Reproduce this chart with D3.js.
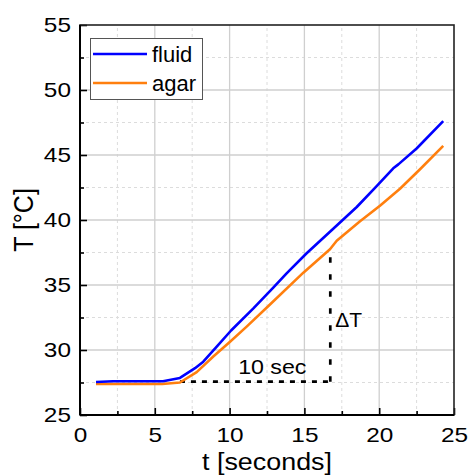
<!DOCTYPE html>
<html>
<head>
<meta charset="utf-8">
<script src="https://cdn.jsdelivr.net/npm/d3@7/dist/d3.min.js"></script>
<style>
  html, body { margin: 0; padding: 0; background: #fff; }
  svg { display: block; font-family: "Liberation Sans", Arial, sans-serif; }
</style>
</head>
<body>
<svg id="chart" width="470" height="475"></svg>
<script>
// Temperature readings (°C) over time (s)
const fluidT = [1.07, 2.2, 5.55, 6.68, 7.69, 8.24, 9.14, 10.1, 11.59, 12.92, 13.81, 15.15, 16.71, 18.5, 19.83, 20.94, 21.28, 22.5, 24.28];
const fluidV = [27.54, 27.6, 27.6, 27.85, 28.6, 29.1, 30.26, 31.5, 33.2, 34.8, 35.9, 37.44, 39.1, 41.0, 42.6, 43.98, 44.28, 45.5, 47.6];
const agarT = [1.07, 5.5, 6.68, 7.8, 8.91, 10.03, 11.14, 12.7, 14.93, 16.71, 17.16, 18.72, 20.05, 21.39, 22.73, 24.28];
const agarV = [27.38, 27.38, 27.5, 28.3, 29.5, 30.64, 31.8, 33.5, 35.95, 37.75, 38.4, 39.9, 41.1, 42.4, 43.9, 45.7];

const xMajor = [0, 5, 10, 15, 20, 25];
const xMinor = [2.5, 7.5, 12.5, 17.5, 22.5];
const yMajor = [25, 30, 35, 40, 45, 50, 55];
const yMinor = [27.5, 32.5, 37.5, 42.5, 47.5, 52.5];

// Annotation: 10 s interval and the matching temperature rise on agar
const spanStart = 6.68, spanEnd = 16.73, baseT = 27.56, topT = 37.8;

const series = [
  { name: "fluid", t: fluidT, v: fluidV, color: "#0000ff" },
  { name: "agar",  t: agarT,  v: agarV,  color: "#ff7f0e" }
];

const svg = d3.select("#chart");
const m = { left: 80, right: 16, top: 25, bottom: 60 };
const W = 470, H = 475;
const x = d3.scaleLinear().domain([0, 25]).range([m.left, W - m.right]);
const y = d3.scaleLinear().domain([25, 55]).range([H - m.bottom, m.top]);
const SX = 1.16; // wide glyph look

// grid
const grid = svg.append("g");
grid.selectAll("line.xmin").data(xMinor).join("line")
  .attr("x1", d => x(d)).attr("x2", d => x(d)).attr("y1", y(25)).attr("y2", y(55))
  .attr("stroke", "#dcdcdc").attr("stroke-width", 1).attr("stroke-dasharray", "3,3");
grid.selectAll("line.ymin").data(yMinor).join("line")
  .attr("y1", d => y(d)).attr("y2", d => y(d)).attr("x1", x(0)).attr("x2", x(25))
  .attr("stroke", "#dcdcdc").attr("stroke-width", 1).attr("stroke-dasharray", "3,3");
grid.selectAll("line.xmaj").data(xMajor.slice(1, -1)).join("line")
  .attr("x1", d => x(d)).attr("x2", d => x(d)).attr("y1", y(25)).attr("y2", y(55))
  .attr("stroke", "#cfcfcf").attr("stroke-width", 1.3);
grid.selectAll("line.ymaj").data(yMajor.slice(1, -1)).join("line")
  .attr("y1", d => y(d)).attr("y2", d => y(d)).attr("x1", x(0)).attr("x2", x(25))
  .attr("stroke", "#cfcfcf").attr("stroke-width", 1.3);

// annotation lines
svg.append("line")
  .attr("x1", x(spanStart)).attr("x2", x(spanEnd)).attr("y1", y(baseT)).attr("y2", y(baseT))
  .attr("stroke", "#000").attr("stroke-width", 2.7).attr("stroke-dasharray", "5,6");
svg.append("line")
  .attr("x1", x(spanEnd)).attr("x2", x(spanEnd)).attr("y1", y(baseT)).attr("y2", y(topT))
  .attr("stroke", "#000").attr("stroke-width", 2.7).attr("stroke-dasharray", "5.5,11.5");

// data lines
const line = d3.line().x(d => x(d[0])).y(d => y(d[1]));
series.slice().reverse().forEach(s => {
  svg.append("path")
    .datum(s.t.map((t, i) => [t, s.v[i]]))
    .attr("d", line)
    .attr("fill", "none").attr("stroke", s.color).attr("stroke-width", 2.6)
    .attr("stroke-linejoin", "round");
});

// annotation text
svg.append("text")
  .attr("transform", `translate(${x(spanEnd) - 58},${y(baseT) - 8}) scale(${SX},1)`)
  .attr("text-anchor", "middle").attr("font-size", 20).text("10 sec");
svg.append("text")
  .attr("transform", `translate(${x(spanEnd) + 5},${(y(baseT) + y(topT)) / 2 + 12}) scale(1.05,1)`)
  .attr("font-size", 20).text("ΔT");

// axes
const fmt = d3.format("d");
const gx = svg.append("g").attr("transform", `translate(0,${y(25)})`)
  .call(d3.axisBottom(x).tickValues(xMajor).tickFormat(fmt).tickSizeInner(-7).tickSizeOuter(0).tickPadding(12));
const gxm = svg.append("g").attr("transform", `translate(0,${y(25)})`)
  .call(d3.axisBottom(x).tickValues(xMinor).tickFormat("").tickSizeInner(-4).tickSizeOuter(0));
const gy = svg.append("g").attr("transform", `translate(${x(0)},0)`)
  .call(d3.axisLeft(y).tickValues(yMajor).tickFormat(fmt).tickSizeInner(-7).tickSizeOuter(0).tickPadding(7.8));
const gym = svg.append("g").attr("transform", `translate(${x(0)},0)`)
  .call(d3.axisLeft(y).tickValues(yMinor).tickFormat("").tickSizeInner(-4).tickSizeOuter(0));
[gx, gxm, gy, gym].forEach(g => {
  g.selectAll(".domain").remove();
  g.selectAll(".tick line").attr("stroke", "#000").attr("stroke-width", 1.6);
  g.selectAll(".tick text").attr("font-size", 21).attr("fill", "#000")
    .attr("font-family", "Liberation Sans, Arial, sans-serif")
    .attr("transform", `scale(${SX},1)`);
});

// frame
svg.append("rect").attr("x", x(0)).attr("y", y(55)).attr("width", x(25) - x(0)).attr("height", y(25) - y(55))
  .attr("fill", "none").attr("stroke", "#222").attr("stroke-width", 1.6);
svg.append("line").attr("x1", x(0)).attr("x2", x(0)).attr("y1", y(55)).attr("y2", y(25))
  .attr("stroke", "#000").attr("stroke-width", 2);
svg.append("line").attr("x1", x(0)).attr("x2", x(25)).attr("y1", y(25)).attr("y2", y(25))
  .attr("stroke", "#000").attr("stroke-width", 2);

// axis titles
svg.append("text")
  .attr("transform", `translate(${(x(0) + x(25)) / 2},470) scale(1.12,1)`)
  .attr("text-anchor", "middle").attr("font-size", 24).text("t [seconds]");
svg.append("text")
  .attr("transform", `translate(33,${(y(25) + y(55)) / 2}) rotate(-90) scale(1,1.1)`)
  .attr("text-anchor", "middle").attr("font-size", 25).text("T [°C]");

// legend
const lg = svg.append("g");
lg.append("rect").attr("x", 90.5).attr("y", 38.5).attr("width", 112).attr("height", 61)
  .attr("fill", "#fff").attr("stroke", "#555").attr("stroke-width", 1);
series.forEach((s, i) => {
  const yy = 54 + i * 29;
  lg.append("line").attr("x1", 93).attr("x2", 147).attr("y1", yy).attr("y2", yy)
    .attr("stroke", s.color).attr("stroke-width", 2.6);
  lg.append("text").attr("x", 152).attr("y", yy + 8).attr("font-size", 22).text(s.name);
});
</script>
</body>
</html>
